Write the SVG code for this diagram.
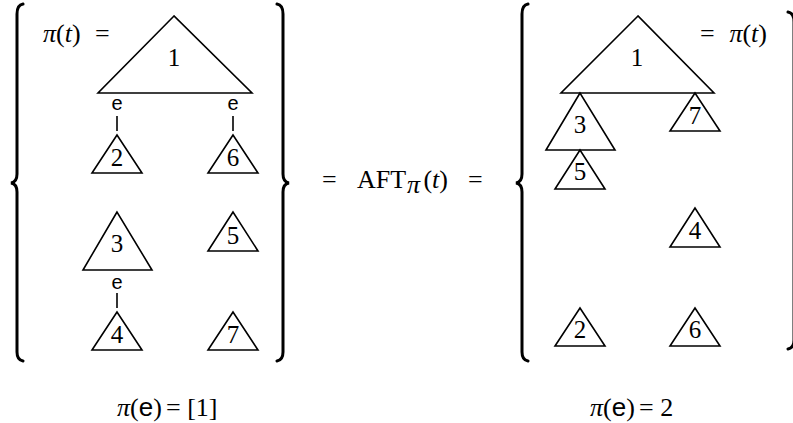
<svg xmlns="http://www.w3.org/2000/svg" width="793" height="423" viewBox="0 0 793 423">
<style>
.tri{fill:none;stroke:#000;stroke-width:1.6;stroke-linejoin:miter}
.brace{fill:none;stroke:#000;stroke-width:3;stroke-linecap:round}
.link{stroke:#000;stroke-width:1.6}
.num{font-family:"Liberation Serif",serif;font-size:25px;text-anchor:middle;fill:#000}
.math{font-family:"Liberation Serif",serif;font-size:26px;fill:#000}
.it{font-style:italic}
.sf{font-family:"Liberation Sans",sans-serif}
.e{font-family:"Liberation Sans",sans-serif;font-size:20px;text-anchor:middle;fill:#000}
</style>
<rect width="793" height="423" fill="#fff"/>
<g id="braces">
<path class="brace" d="M23 4 Q17 5 17 14 L17 174 Q17 182 11 183 Q17 184 17 192 L17 352 Q17 360 23 361"/>
<path class="brace" d="M277 4 Q283 5 283 14 L283 174 Q283 182 289 183 Q283 184 283 192 L283 352 Q283 360 277 361"/>
<path class="brace" d="M528 4 Q522 5 522 14 L522 174 Q522 182 516 183 Q522 184 522 192 L522 352 Q522 360 528 361"/>
<path class="brace" d="M788 12 Q794 13 794 22 L794 340 Q794 348 788 349"/>
</g>
<g id="left-set">
<g id="L1"><polygon class="tri" points="174,16 98,93 252,93"/><text class="num" x="174" y="66">1</text></g>
<g id="L2"><polygon class="tri" points="117,135 92,173 142,173"/><text class="num" x="117" y="166">2</text></g>
<g id="L6"><polygon class="tri" points="233,135 208,173 258,173"/><text class="num" x="233" y="166">6</text></g>
<g id="L3"><polygon class="tri" points="117,212 83,270 152,270"/><text class="num" x="117" y="252">3</text></g>
<g id="L5"><polygon class="tri" points="233,212 208,251 258,251"/><text class="num" x="233" y="244">5</text></g>
<g id="L4"><polygon class="tri" points="117,312 92,350 142,350"/><text class="num" x="117" y="343">4</text></g>
<g id="L7"><polygon class="tri" points="233,312 208,350 258,350"/><text class="num" x="233" y="343">7</text></g>
</g>
<g id="connectors">
<text class="e" x="117" y="110">e</text>
<line class="link" x1="117" y1="116" x2="117" y2="131"/>
<text class="e" x="233" y="110">e</text>
<line class="link" x1="233" y1="116" x2="233" y2="131"/>
<text class="e" x="117" y="289">e</text>
<line class="link" x1="117" y1="293" x2="117" y2="308"/>
</g>
<g id="right-set">
<g id="R1"><polygon class="tri" points="638,16 561,93 714,93"/><text class="num" x="637" y="66">1</text></g>
<g id="R3"><polygon class="tri" points="580,93 546,150 615,150"/><text class="num" x="580" y="133">3</text></g>
<g id="R5"><polygon class="tri" points="580,150 555,189 605,189"/><text class="num" x="580" y="180">5</text></g>
<g id="R7"><polygon class="tri" points="695,93 670,131 720,131"/><text class="num" x="695" y="124">7</text></g>
<g id="R4"><polygon class="tri" points="695,208 670,247 720,247"/><text class="num" x="695" y="239">4</text></g>
<g id="R2"><polygon class="tri" points="580,308 555,346 605,346"/><text class="num" x="580" y="338">2</text></g>
<g id="R6"><polygon class="tri" points="695,308 670,346 720,346"/><text class="num" x="695" y="338">6</text></g>
</g>
<g id="labels">
<text class="math" x="43" y="42"><tspan class="it">π</tspan>(<tspan class="it">t</tspan>)</text>
<text class="math" x="95" y="42">=</text>
<text class="math" x="700" y="42">=</text>
<text class="math" x="767" y="42" text-anchor="end"><tspan class="it">π</tspan>(<tspan class="it">t</tspan>)</text>
<text class="math" x="322" y="188">=</text>
<text class="math" x="357" y="188">AFT</text>
<text class="math it" x="407" y="193" font-size="16">π</text>
<text class="math" x="448" y="188" text-anchor="end">(<tspan class="it">t</tspan>)</text>
<text class="math" x="468" y="188">=</text>
<text class="math" x="117" y="416"><tspan class="it">π</tspan>(<tspan class="sf">e</tspan>)</text>
<text class="math" x="166" y="416">= [1]</text>
<text class="math" x="590" y="416"><tspan class="it">π</tspan>(<tspan class="sf">e</tspan>)</text>
<text class="math" x="639" y="416">= 2</text>
</g>
</svg>
